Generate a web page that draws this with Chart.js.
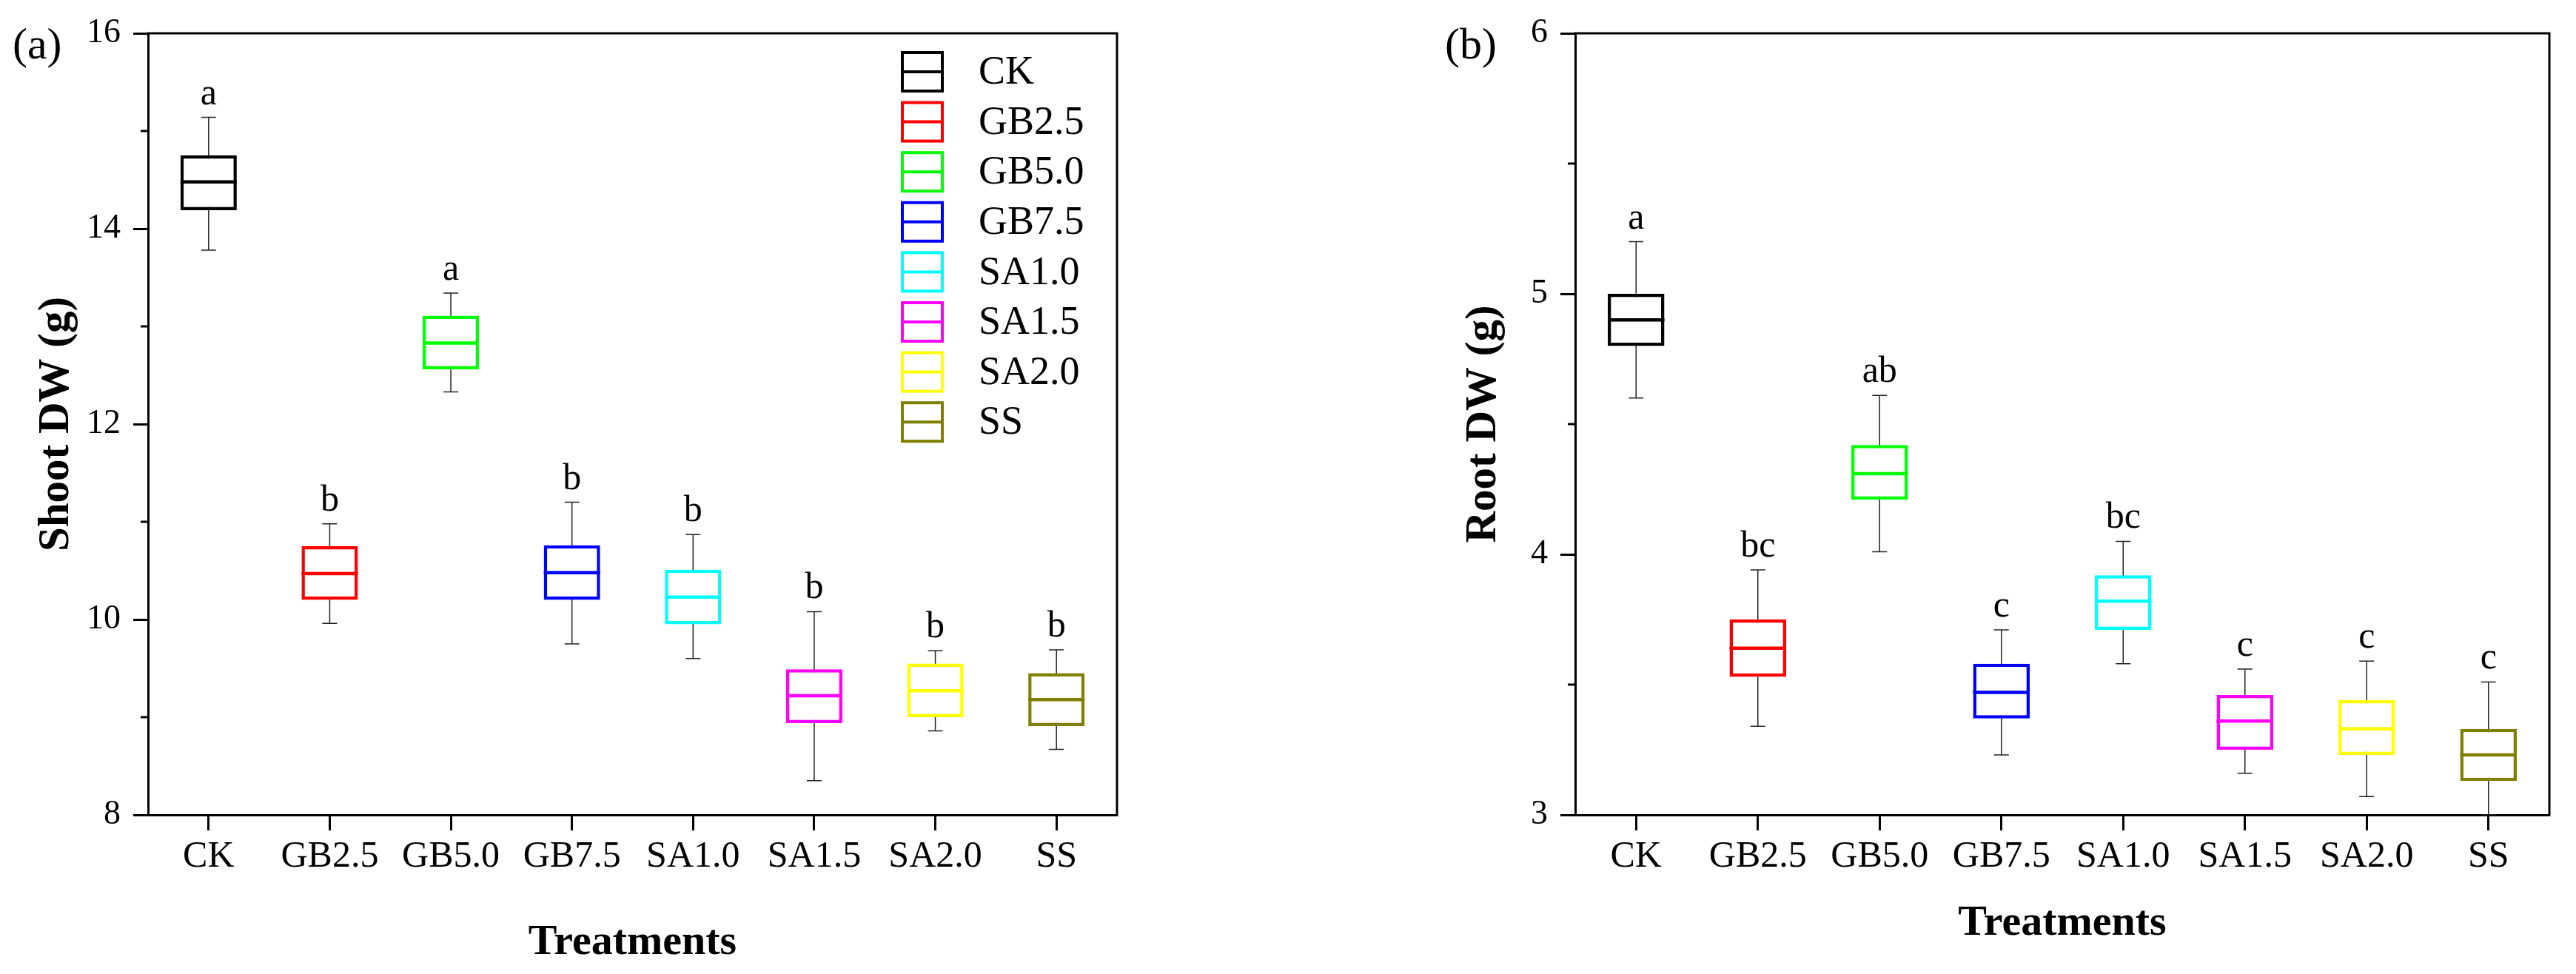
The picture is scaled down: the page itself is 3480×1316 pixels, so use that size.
<!DOCTYPE html>
<html>
<head>
<meta charset="utf-8">
<script src="https://cdn.jsdelivr.net/npm/chart.js@4.4.1/dist/chart.umd.min.js"></script>
<style>
  body { margin: 0; background: #fff; }
  #wrap { position: relative; width: 3480px; height: 1316px; }
  .panel { position: absolute; top: 0; width: 1740px; height: 1316px; }
</style>
</head>
<body>
<div id="wrap">
  <div class="panel" style="left:0"><canvas id="shootChart"></canvas></div>
  <div class="panel" style="left:1740px"><canvas id="rootChart"></canvas></div>
</div>
<script>
/// === DATA === ///
const treatments = ["CK", "GB2.5", "GB5.0", "GB7.5", "SA1.0", "SA1.5", "SA2.0", "SS"];
const boxColors = ["#000000", "#ff0000", "#00ff00", "#0000ff", "#00ffff", "#ff00ff", "#ffff00", "#808000"];

// (a) shoot dry weight
const shootMin    = [13.78, 9.96, 12.33, 9.75, 9.60, 8.35, 8.86, 8.67];
const shootQ1     = [14.19, 10.20, 12.56, 10.20, 9.95, 8.94, 9.00, 8.91];
const shootMedian = [14.48, 10.47, 12.83, 10.48, 10.23, 9.22, 9.27, 9.18];
const shootQ3     = [14.75, 10.75, 13.11, 10.76, 10.51, 9.49, 9.55, 9.45];
const shootMax    = [15.14, 10.98, 13.34, 11.20, 10.87, 10.08, 9.68, 9.69];
const shootLetters = ["a", "b", "a", "b", "b", "b", "b", "b"];

// (b) root dry weight
const rootMin    = [4.60, 3.34, 4.01, 3.23, 3.58, 3.16, 3.07, 3.00];
const rootQ1     = [4.80, 3.53, 4.21, 3.37, 3.71, 3.25, 3.23, 3.13];
const rootMedian = [4.90, 3.64, 4.31, 3.47, 3.82, 3.36, 3.33, 3.23];
const rootQ3     = [5.00, 3.75, 4.42, 3.58, 3.92, 3.46, 3.44, 3.33];
const rootMax    = [5.20, 3.94, 4.61, 3.71, 4.05, 3.56, 3.59, 3.51];
const rootLetters = ["a", "bc", "ab", "c", "bc", "c", "c", "c"];

Chart.defaults.font.family = "'Liberation Serif', 'Times New Roman', serif";
Chart.defaults.color = "#000";

/// === BOX PARTS (whiskers, medians, letters, frame) === ///
const boxParts = (stats) => ({
  id: "boxParts",
  beforeDatasetsDraw(chart) {
    const { ctx, scales: { x, y } } = chart;
    ctx.save();
    ctx.strokeStyle = "#222";
    ctx.lineWidth = 1.5;
    stats.min.forEach((lo, i) => {
      const px = x.getPixelForValue(i);
      const top = y.getPixelForValue(stats.max[i]);
      const bot = y.getPixelForValue(lo);
      ctx.beginPath();
      ctx.moveTo(px, top); ctx.lineTo(px, bot);
      ctx.moveTo(px - 10, top); ctx.lineTo(px + 10, top);
      ctx.moveTo(px - 10, bot); ctx.lineTo(px + 10, bot);
      ctx.stroke();
    });
    ctx.restore();
  },
  afterDatasetsDraw(chart) {
    const { ctx, scales: { x, y } } = chart;
    const bars = chart.getDatasetMeta(0).data;
    ctx.save();
    ctx.lineWidth = 4.5;
    stats.median.forEach((m, i) => {
      const px = x.getPixelForValue(i);
      const half = bars[i].width / 2;
      const py = y.getPixelForValue(m);
      ctx.strokeStyle = boxColors[i];
      ctx.beginPath();
      ctx.moveTo(px - half, py); ctx.lineTo(px + half, py);
      ctx.stroke();
    });
    ctx.fillStyle = "#000";
    ctx.font = "50px 'Liberation Serif'";
    ctx.textAlign = "center";
    ctx.textBaseline = "alphabetic";
    stats.letters.forEach((t, i) => {
      ctx.fillText(t, x.getPixelForValue(i), y.getPixelForValue(stats.max[i]) - 18);
    });
    ctx.restore();
  },
  afterDraw(chart) {
    const { ctx, chartArea: a, scales: { y } } = chart;
    ctx.save();
    // top and right frame
    ctx.strokeStyle = "#000";
    ctx.lineWidth = 3;
    ctx.lineCap = "square";
    ctx.beginPath();
    ctx.moveTo(a.left, a.top); ctx.lineTo(a.right, a.top); ctx.lineTo(a.right, a.bottom);
    ctx.stroke();
    // minor ticks
    ctx.lineCap = "butt";
    const ticks = y.ticks;
    for (let k = 0; k < ticks.length - 1; k++) {
      const py = y.getPixelForValue((ticks[k].value + ticks[k + 1].value) / 2);
      ctx.beginPath();
      ctx.moveTo(a.left - 10, py); ctx.lineTo(a.left, py);
      ctx.stroke();
    }
    // panel label
    ctx.fillStyle = "#000";
    ctx.font = "60px 'Liberation Serif'";
    ctx.textAlign = "left";
    ctx.textBaseline = "alphabetic";
    ctx.fillText(stats.panel, a.left + stats.panelDx, a.top + 34);
    // legend
    if (stats.legend) {
      ctx.font = "54px 'Liberation Serif'";
      ctx.textBaseline = "middle";
      treatments.forEach((name, i) => {
        const cy = a.top + 52 + i * 67.6;
        const lx = a.right - 290;
        ctx.strokeStyle = boxColors[i];
        ctx.lineWidth = 4;
        ctx.strokeRect(lx, cy - 26, 54, 52);
        ctx.beginPath();
        ctx.moveTo(lx, cy); ctx.lineTo(lx + 54, cy);
        ctx.stroke();
        ctx.fillText(name, a.right - 187, cy + 2);
      });
    }
    ctx.restore();
  },
});

/// === CHARTS === ///
const theBoxChart = (canvasId, s) => {
  new Chart(document.getElementById(canvasId), {
    type: "bar",
    data: {
      labels: treatments,
      datasets: [
        {
          label: s.yTitle,
          data: s.q1.map((q, i) => [q, s.q3[i]]),
          backgroundColor: "#ffffff",
          borderColor: boxColors,
          borderWidth: 4.5,
          borderSkipped: false,
          barPercentage: 0.465,
          categoryPercentage: 1.0,
        },
      ],
    },
    options: {
      responsive: true,
      maintainAspectRatio: false,
      animation: false,
      layout: { padding: s.padding },
      plugins: { legend: { display: false }, tooltip: { enabled: false } },
      scales: {
        x: {
          afterFit: (sc) => { sc.height = 215; },
          grid: {
            display: true, drawOnChartArea: false, offset: false,
            tickLength: 21, tickWidth: 3, tickColor: "#000",
          },
          border: { display: true, color: "#000", width: 3 },
          ticks: { font: { size: 50 }, color: "#000", padding: 6 },
          title: {
            display: true, text: "Treatments", color: "#000",
            font: { size: 58, weight: "bold" },
            padding: { top: 0, bottom: s.xTitlePad },
          },
        },
        y: {
          min: s.yMin,
          max: s.yMax,
          afterFit: (sc) => { sc.width = s.yWidth; },
          grid: {
            display: true, drawOnChartArea: false,
            tickLength: 20, tickWidth: 3, tickColor: "#000",
          },
          border: { display: true, color: "#000", width: 3 },
          ticks: { stepSize: s.step, font: { size: 46 }, color: "#000", padding: 17 },
          title: {
            display: true, text: s.yTitle, color: "#000",
            font: { size: 59, weight: "bold" },
            padding: { top: s.yTitlePad, bottom: 0 },
          },
        },
      },
    },
    plugins: [boxParts(s)],
  });
};

theBoxChart("shootChart", {
  q1: shootQ1, q3: shootQ3, min: shootMin, max: shootMax, median: shootMedian,
  letters: shootLetters, yTitle: "Shoot DW (g)", yMin: 8, yMax: 16, step: 2,
  padding: { left: 0, right: 231, top: 45, bottom: 0 }, yWidth: 200,
  yTitlePad: 41, xTitlePad: 7, panel: "(a)", panelDx: -183, legend: true,
});

theBoxChart("rootChart", {
  q1: rootQ1, q3: rootQ3, min: rootMin, max: rootMax, median: rootMedian,
  letters: rootLetters, yTitle: "Root DW (g)", yMin: 3, yMax: 6, step: 1,
  padding: { left: 200, right: 36, top: 45, bottom: 0 }, yWidth: 188,
  yTitlePad: 29, xTitlePad: 33, panel: "(b)", panelDx: -176, legend: false,
});
</script>
</body>
</html>
